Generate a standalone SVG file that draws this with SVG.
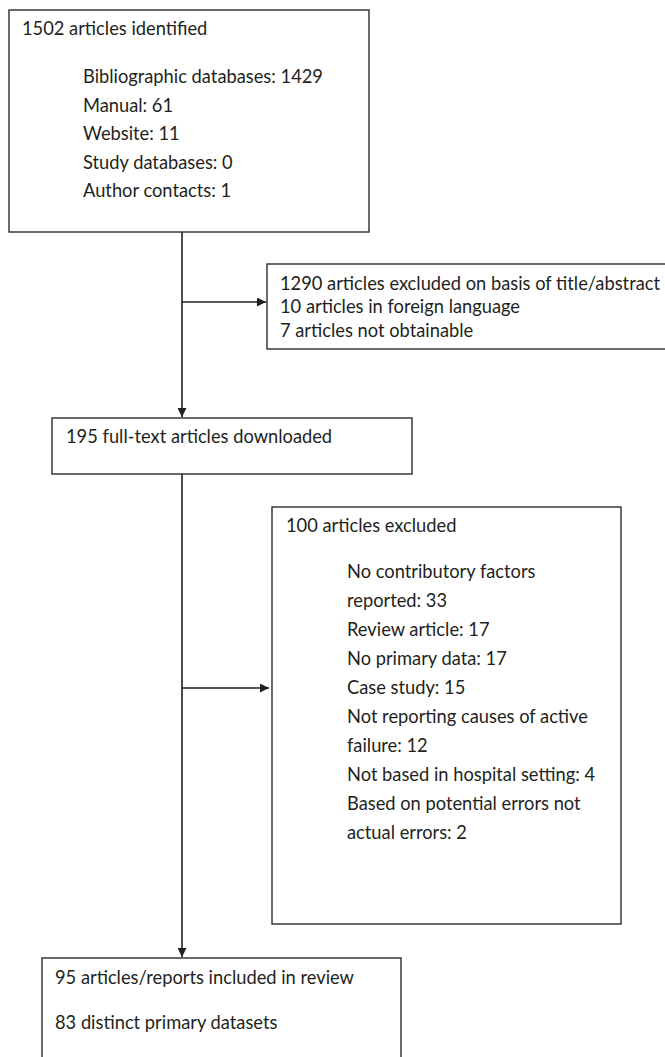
<svg xmlns="http://www.w3.org/2000/svg" width="665" height="1057" viewBox="0 0 665 1057">
<style>
.box{fill:#fff;stroke:#2b2b2b;stroke-width:1.4}
.t{font-family:Lato,"Open Sans","Liberation Sans",sans-serif;font-size:18.3px;fill:#231f20}
.c{stroke:#231f20;stroke-width:1.6;fill:none}
</style>
<defs>
<marker id="ah" viewBox="0 0 10 10" refX="10" refY="5" markerWidth="9" markerHeight="9" markerUnits="userSpaceOnUse" orient="auto">
<path d="M0,0L10,5L0,10z" fill="#231f20"/>
</marker>
</defs>
<rect width="665" height="1057" fill="#fff"/>
<g id="connectors">
<line class="c" x1="182" y1="232" x2="182" y2="417" marker-end="url(#ah)"/>
<line class="c" x1="182" y1="302" x2="266" y2="302" marker-end="url(#ah)"/>
<line class="c" x1="182" y1="474" x2="182" y2="957" marker-end="url(#ah)"/>
<line class="c" x1="182" y1="688" x2="269" y2="688" marker-end="url(#ah)"/>
</g>
<g id="identified">
<rect class="box" x="9" y="10" width="360" height="222"/>
<text class="t" x="22" y="35">1502 articles identified</text>
<text class="t" x="83" y="83">Bibliographic databases: 1429</text>
<text class="t" x="83" y="112">Manual: 61</text>
<text class="t" x="83" y="140">Website: 11</text>
<text class="t" x="83" y="169">Study databases: 0</text>
<text class="t" x="83" y="197">Author contacts: 1</text>
</g>
<g id="excluded1">
<rect class="box" x="267" y="264" width="410" height="85"/>
<text class="t" x="280" y="290">1290 articles excluded on basis of title/abstract</text>
<text class="t" x="280" y="313">10 articles in foreign language</text>
<text class="t" x="280" y="337">7 articles not obtainable</text>
</g>
<g id="downloaded">
<rect class="box" x="52" y="418" width="360" height="56"/>
<text class="t" x="66" y="443">195 full-text articles downloaded</text>
</g>
<g id="excluded2">
<rect class="box" x="272" y="507" width="349" height="417"/>
<text class="t" x="286" y="532">100 articles excluded</text>
<text class="t" x="347" y="578">No contributory factors</text>
<text class="t" x="347" y="607">reported: 33</text>
<text class="t" x="347" y="636">Review article: 17</text>
<text class="t" x="347" y="665">No primary data: 17</text>
<text class="t" x="347" y="694">Case study: 15</text>
<text class="t" x="347" y="723">Not reporting causes of active</text>
<text class="t" x="347" y="752">failure: 12</text>
<text class="t" x="347" y="781">Not based in hospital setting: 4</text>
<text class="t" x="347" y="810">Based on potential errors not</text>
<text class="t" x="347" y="839">actual errors: 2</text>
</g>
<g id="included">
<rect class="box" x="42" y="958" width="359" height="110"/>
<text class="t" x="55" y="984">95 articles/reports included in review</text>
<text class="t" x="55" y="1029">83 distinct primary datasets</text>
</g>
</svg>
